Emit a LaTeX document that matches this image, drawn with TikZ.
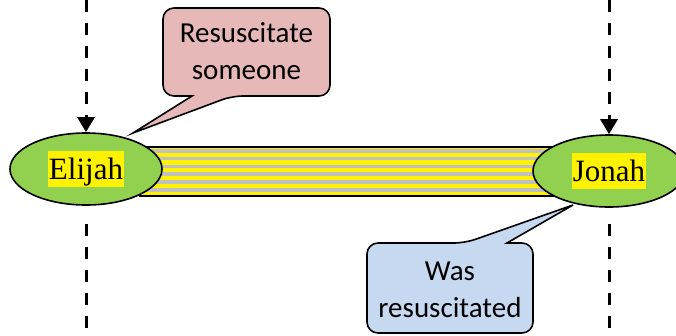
\documentclass[tikz,border=0pt]{standalone}
\usepackage{fontspec}
\setmainfont{Liberation Serif}
\setsansfont{Carlito}
\usepackage{tikz}
\usetikzlibrary{arrows.meta,calc,positioning,shapes.geometric}
\definecolor{leafgreen}{HTML}{92D050}
\definecolor{callpink}{HTML}{E6B9B8}
\definecolor{callblue}{HTML}{C6D9F1}
\definecolor{stripegray}{HTML}{C0C0C0}

\begin{document}
\begin{tikzpicture}[
    x=1pt, y=-1pt,
    person/.style={ellipse, draw=black, line width=1.6pt, fill=leafgreen, minimum width=152pt, minimum height=72pt},
    namebox/.style={fill=yellow, inner xsep=0.5pt, inner ysep=0, text height=27.6pt, text depth=7.5pt, font=\fontsize{31}{36}\selectfont},
    saytext/.style={align=center, font=\sffamily\fontsize{29}{37}\selectfont, inner sep=0},
    balloon/.style={draw=black, line width=1.6pt, rounded corners=11pt},
    lifeline/.style={line width=3pt, dash pattern=on 12pt off 11pt},
    ]
\useasboundingbox (0,0) rectangle (676,335);
\clip (0,0) rectangle (676,335);

% striped bar between the two
\fill[yellow] (140,147) rectangle (565,196);
\foreach \i in {0,...,5}
    \fill[stripegray] (140,149+\i*7.8) rectangle ++(425,3.6);
\draw[line width=1.6pt] (140,147) rectangle (565,196);

\node[person] (elijah) at (86,169) {};
\node[namebox] (elijahname) at (elijah.center) {Elijah};
\node[person] (jonah) at (609,171) {};
\node[namebox] (jonahname) at (jonah.center) {Jonah};

% time lines
\coordinate (elijahtop) at (86,0);
\coordinate (elijahend) at (86,335);
\coordinate (jonahtop) at (609,0);
\coordinate (jonahend) at (609,335);
\draw[lifeline, -{Triangle[width=17pt,length=15pt]}] (elijahtop) -- (elijah.north);
\draw[lifeline] ([yshift=-18pt]elijah.south) -- (elijahend);
\draw[lifeline, -{Triangle[width=17pt,length=15pt]}] (jonahtop) -- (jonah.north);
\draw[lifeline] ([yshift=-16pt]jonah.south) -- (jonahend);

% callouts
\coordinate (elijahtip) at (133,133);
\draw[balloon, fill=callpink] (163,8) -- (330,8) -- (330,96) -- (232,96)
    [sharp corners] -- (elijahtip) -- (192,96) [rounded corners=11pt] -- (163,96) -- cycle;
\node[saytext] (resus) at (246.5,51) {Resuscitate\\someone};

\coordinate (jonahtip) at (573,205);
\draw[balloon, fill=callblue] (367,243) -- (465,243)
    [sharp corners] -- (jonahtip) -- (507,243) [rounded corners=11pt] -- (533,243) -- (533,333) -- (367,333) -- cycle;
\node[saytext] (wasresus) at (450,290) {Was\\resuscitated};
\end{tikzpicture}
\end{document}
